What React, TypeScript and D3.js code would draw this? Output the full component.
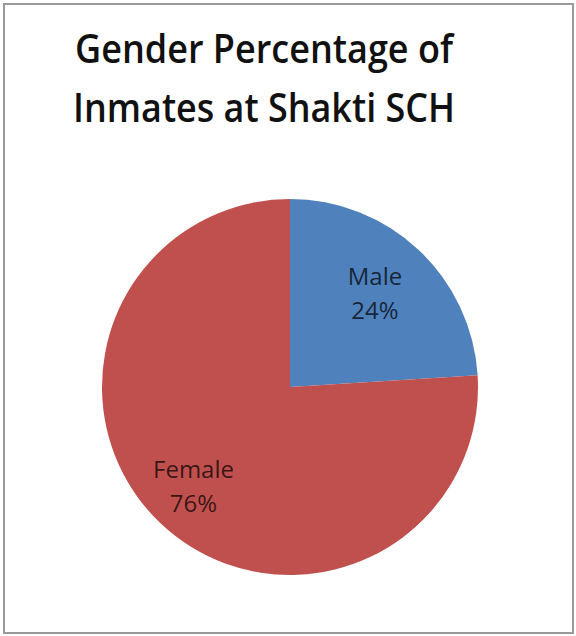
import React from "react";
import * as d3 from "d3";

const categories = ["Male", "Female"];
const values = [24, 76];
const percentLabels = ["24%", "76%"];
const colors = ["#4f81bd", "#c0504d"];
const titleLines = ["Gender Percentage of", "Inmates at Shakti SCH"];

export default function App() {
  const W = 576;
  const H = 636;
  const cx = 290;
  const cy = 387;
  const r = 188;

  const pie = d3
    .pie<number>()
    .sort(null)
    .value((d) => d);
  const arcs = pie(values);
  const arcGen = d3.arc<d3.PieArcDatum<number>>().innerRadius(0).outerRadius(r);
  const labelRadii = [0.66, 0.75];

  return (
    <svg
      width={W}
      height={H}
      style={{ position: "absolute", left: 0, top: 0, background: "#fff" }}
      fontFamily="'Open Sans', sans-serif"
    >
      <rect x={0} y={0} width={W} height={H} fill="#fff" />
      <rect
        x={4}
        y={4}
        width={569}
        height={629}
        fill="#fff"
        stroke="#9a9a9a"
        strokeWidth={2}
      />
      <text
        x={264}
        y={63}
        textAnchor="middle"
        fontSize={39}
        fontWeight={600}
        fill="#111"
        textLength={378}
        lengthAdjust="spacingAndGlyphs"
      >
        {titleLines[0]}
      </text>
      <text
        x={264}
        y={122}
        textAnchor="middle"
        fontSize={39}
        fontWeight={600}
        fill="#111"
        textLength={382}
        lengthAdjust="spacingAndGlyphs"
      >
        {titleLines[1]}
      </text>
      <g transform={`translate(${cx},${cy})`}>
        {arcs.map((a, i) => (
          <path key={categories[i]} d={arcGen(a) || ""} fill={colors[i]} />
        ))}
        {arcs.map((a, i) => {
          const lr = r * labelRadii[i];
          const [lx, ly] = d3
            .arc<d3.PieArcDatum<number>>()
            .innerRadius(lr)
            .outerRadius(lr)
            .centroid(a);
          return (
            <text
              key={"l" + i}
              x={lx}
              y={ly}
              textAnchor="middle"
              fontSize={24}
              fill="#000"
              fillOpacity={0.72}
            >
              <tspan x={lx} dy={-12}>
                {categories[i]}
              </tspan>
              <tspan x={lx} dy={34}>
                {percentLabels[i]}
              </tspan>
            </text>
          );
        })}
      </g>
    </svg>
  );
}
